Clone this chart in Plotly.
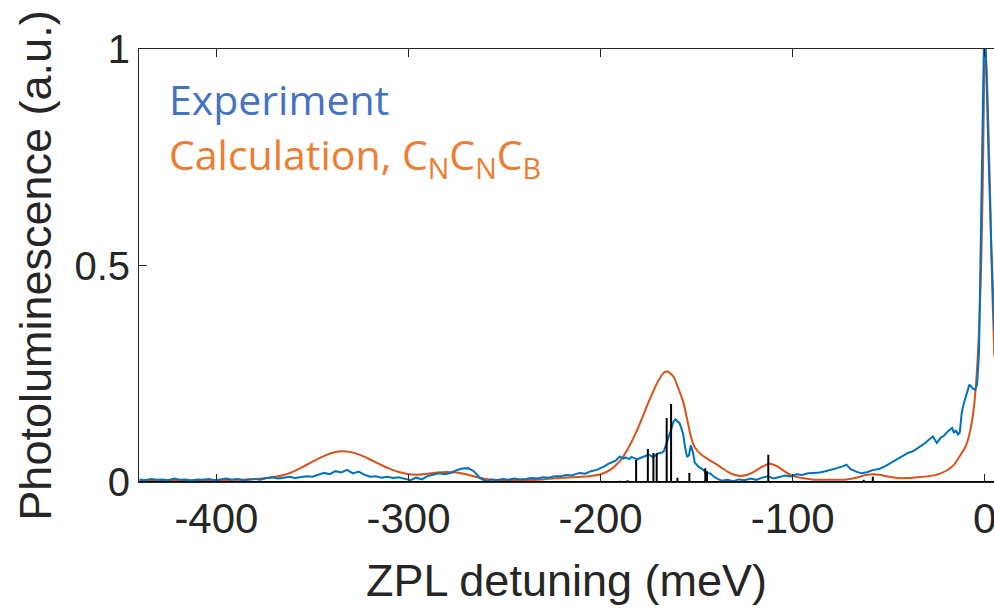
import plotly.graph_objects as go

# ---------------- data ----------------
exp_x = [-440, -437, -434, -431, -428, -425, -422, -419, -416, -413, -410, -407, -404, -401,
         -398, -395, -392, -389, -386, -383, -380, -377, -374, -371, -368, -365, -362, -359,
         -356, -353, -350, -347, -344, -341, -338, -335, -332, -329, -326, -323, -320, -317,
         -314, -311, -308, -305, -302, -299, -296, -293, -290, -287, -284, -281, -278, -275,
         -272, -269, -266, -263, -260, -257, -254, -251, -248, -245, -242, -239, -236, -233,
         -230, -227, -224, -221, -218, -215, -211, -208, -205, -202, -200, -198, -196, -194,
         -192, -190, -188, -187, -185, -184, -182, -181, -179, -178, -176, -175, -173, -172,
         -170, -168, -167, -166, -165, -164, -163, -162, -161, -160, -159, -158, -157, -156,
         -155, -154, -153, -152, -151, -150, -149, -147, -145, -143, -141, -139, -137, -134,
         -131, -128, -125, -122, -119, -116, -113, -110, -107, -104, -101, -98, -95, -92,
         -89, -86, -83, -80, -77, -74, -72, -70, -67, -64, -61, -58, -55, -52, -49, -46,
         -43, -40, -37, -34, -31, -29, -27, -25, -23, -21, -19, -17, -16, -15, -14, -13,
         -12, -11, -10, -9, -8, -7, -6, -5, -4, -3, -2, -1, -0.5, 0.5, 1, 2, 3.4, 5]
exp_y = [0.006, 0.004, 0.007, 0.005, 0.006, 0.004, 0.008, 0.005, 0.006, 0.003, 0.006, 0.005, 0.007, 0.004,
         0.006, 0.008, 0.005, 0.007, 0.004, 0.006, 0.007, 0.005, 0.009, 0.011, 0.008, 0.010, 0.012, 0.009,
         0.011, 0.013, 0.012, 0.016, 0.021, 0.018, 0.025, 0.022, 0.028, 0.020, 0.024, 0.017, 0.012, 0.013,
         0.010, 0.012, 0.009, 0.011, 0.007, 0.004, 0.010, 0.006, 0.014, 0.017, 0.020, 0.018, 0.021, 0.027,
         0.031, 0.032, 0.025, 0.010, 0.002, 0.006, 0.004, 0.007, 0.005, 0.008, 0.006, 0.007, 0.009, 0.008,
         0.011, 0.010, 0.013, 0.013, 0.016, 0.015, 0.021, 0.019, 0.025, 0.028, 0.032, 0.036, 0.042, 0.046,
         0.050, 0.059, 0.054, 0.057, 0.053, 0.058, 0.055, 0.052, 0.056, 0.058, 0.061, 0.063, 0.058, 0.060,
         0.066, 0.068, 0.072, 0.085, 0.095, 0.110, 0.125, 0.140, 0.145, 0.140, 0.137, 0.125, 0.110, 0.080,
         0.058, 0.062, 0.085, 0.070, 0.045, 0.040, 0.035, 0.030, 0.021, 0.020, 0.012, 0.007, 0.003, 0.005,
         0.002, 0.006, 0.004, 0.008, 0.005, 0.010, 0.013, 0.008, 0.012, 0.015, 0.013, 0.018, 0.016, 0.020,
         0.021, 0.022, 0.025, 0.028, 0.032, 0.036, 0.040, 0.030, 0.024, 0.020, 0.023, 0.028, 0.030, 0.036,
         0.044, 0.052, 0.060, 0.067, 0.072, 0.080, 0.090, 0.098, 0.105, 0.090, 0.102, 0.108, 0.118, 0.125,
         0.113, 0.120, 0.110, 0.115, 0.160, 0.180, 0.195, 0.205, 0.225, 0.220, 0.215, 0.213, 0.225, 0.300,
         0.550, 0.850, 1.000, 1.000, 0.900, 0.750, 0.540, 0.350]

calc_x = [-440, -420, -400, -390, -380, -372, -365, -360, -355, -350, -345, -340, -335, -330,
          -325, -320, -315, -310, -305, -300, -295, -290, -285, -280, -275, -270, -265, -260,
          -250, -240, -230, -220, -210, -205, -200, -195, -190, -185, -180, -175, -170, -167,
          -165, -162, -160, -157, -155, -153, -151, -148, -145, -142, -138, -134, -130, -127,
          -124, -120, -116, -112, -108, -104, -100, -95, -90, -80, -72, -66, -62, -58, -54,
          -50, -45, -40, -35, -30, -25, -20, -16, -13, -10, -8, -6, -4.5, -3, -2, -1, -0.3,
          0.3, 1, 2, 3, 3.5, 4, 5]
calc_y = [0.004, 0.004, 0.004, 0.005, 0.007, 0.010, 0.016, 0.024, 0.035, 0.047, 0.058, 0.067, 0.071, 0.069,
          0.062, 0.052, 0.041, 0.031, 0.023, 0.018, 0.017, 0.019, 0.022, 0.023, 0.022, 0.018, 0.012, 0.007,
          0.004, 0.004, 0.006, 0.010, 0.012, 0.014, 0.018, 0.028, 0.048, 0.083, 0.130, 0.185, 0.233, 0.253,
          0.255, 0.243, 0.222, 0.185, 0.146, 0.105, 0.080, 0.065, 0.055, 0.047, 0.036, 0.024, 0.016, 0.014,
          0.016, 0.024, 0.035, 0.042, 0.036, 0.024, 0.014, 0.009, 0.006, 0.005, 0.006, 0.011, 0.016, 0.018, 0.016,
          0.012, 0.009, 0.009, 0.011, 0.013, 0.017, 0.026, 0.040, 0.060, 0.082, 0.110, 0.160, 0.230, 0.350, 0.480, 0.700, 0.930,
          1.000, 0.950, 0.800, 0.620, 0.520, 0.430, 0.290]

stick_pos = [-190, -186, -181.5, -175.4, -172.5, -170.8, -165.6, -163.3, -160, -153.8, -145.5, -144.6,
             -112.7, -63, -58.3]
stick_h = [0.003, 0.004, 0.051, 0.076, 0.067, 0.067, 0.148, 0.180, 0.010, 0.021, 0.032, 0.025,
           0.063, 0.005, 0.012]

x_ticks = [-400, -300, -200, -100, 0]
y_ticks = [0, 0.5, 1]
x_range = [-440.3, 4.8]

# ---------------- build stick path from the arrays ----------------
sx, sy = [x_range[0]], [0]
for p, h in sorted(zip(stick_pos, stick_h)):
    sx += [p, p, p]
    sy += [0, h, 0]
sx.append(x_range[1])
sy.append(0)

fig = go.Figure()
fig.add_trace(go.Scatter(x=calc_x, y=calc_y, mode="lines",
                         line=dict(color="#D95319", width=2, shape="spline", smoothing=0.6),
                         hoverinfo="skip", showlegend=False))
fig.add_trace(go.Scatter(x=exp_x, y=exp_y, mode="lines",
                         line=dict(color="#0072BD", width=2),
                         hoverinfo="skip", showlegend=False))
fig.add_trace(go.Scatter(x=sx, y=sy, mode="lines",
                         line=dict(color="#000000", width=2),
                         hoverinfo="skip", showlegend=False))

axis_font = "Liberation Sans, Arial, sans-serif"
fig.update_layout(
    width=994, height=609,
    margin=dict(l=139, r=0, t=49, b=127),
    paper_bgcolor="white", plot_bgcolor="white",
    font=dict(family=axis_font, color="#262626"),
    xaxis=dict(range=x_range, tickvals=x_ticks, ticktext=[str(v) for v in x_ticks],
               ticks="inside", ticklen=8, tickcolor="#262626", tickwidth=1,
               showline=True, linecolor="#262626", linewidth=1, mirror="ticks",
               showgrid=False, zeroline=False, ticklabeloverflow="allow", automargin=False,
               tickfont=dict(size=42, family=axis_font, color="#262626"),
               title=dict(text="ZPL detuning (meV)", font=dict(size=45, family=axis_font, color="#262626"),
                          standoff=23)),
    yaxis=dict(range=[0, 1], tickvals=y_ticks, ticktext=["0", "0.5", "1"],
               ticks="inside", ticklen=8, tickcolor="#262626", tickwidth=1,
               showline=True, linecolor="#262626", linewidth=1, mirror=False,
               showgrid=False, zeroline=False, automargin=False,
               tickfont=dict(size=40, family=axis_font, color="#262626"),
               title=dict(text="Photoluminescence (a.u.)", font=dict(size=45, family=axis_font, color="#262626"),
                          standoff=8)),
)

legend_font = "Open Sans, Noto Sans, sans-serif"
fig.add_annotation(xref="paper", yref="paper", x=0.033, y=0.885, xanchor="left", yanchor="middle",
                   text="Experiment", showarrow=False,
                   font=dict(size=41, family=legend_font, color="#4472C4"))
fig.add_annotation(xref="paper", yref="paper", x=0.033, y=0.752, xanchor="left", yanchor="middle",
                   text="Calculation, C<sub>N</sub>C<sub>N</sub>C<sub>B</sub>", showarrow=False,
                   font=dict(size=41, family=legend_font, color="#ED7D31"))

fig.write_html("out.html")
